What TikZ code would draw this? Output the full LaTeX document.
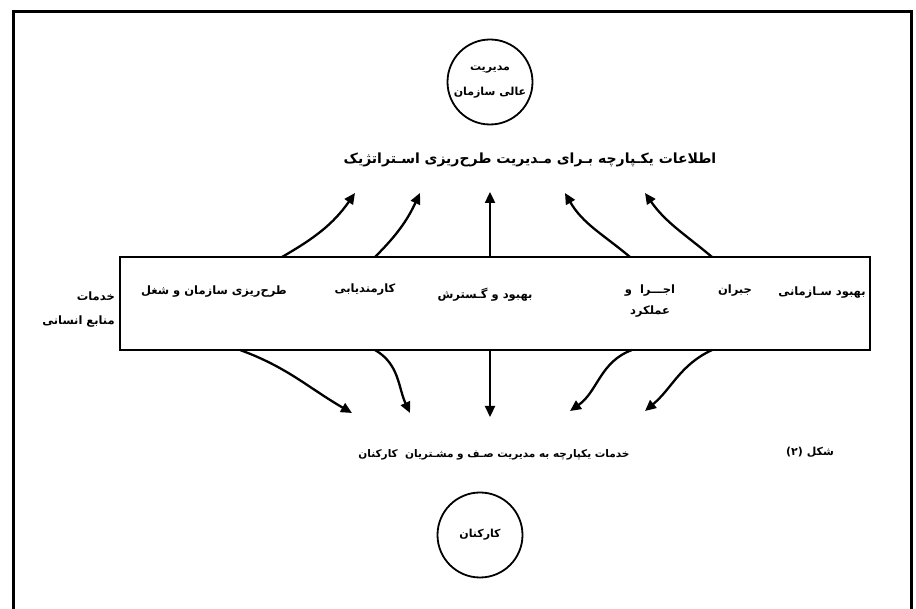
\documentclass[tikz,border=0pt]{standalone}
\usepackage{fontspec}
\TeXXeTstate=1
\newfontfamily\fa[Script=Arabic]{DejaVu Sans}
\usetikzlibrary{arrows.meta}
\begin{document}
\begin{tikzpicture}[x=1pt,y=1pt,
  lbl/.style={font=\fa\bfseries\fontsize{11.5}{14}\selectfont, inner sep=1pt},
  ttl/.style={font=\fa\bfseries\fontsize{10.5}{14}\selectfont, inner sep=1pt},
  arr/.style={-{Triangle[length=11pt,width=10pt]}, line width=2.3pt},
  circ/.style={circle, draw, line width=1.8pt, minimum size=85pt, inner sep=0pt, align=center,
    font=\fa\bfseries\fontsize{11}{25}\selectfont}]
\useasboundingbox (0,0) rectangle (916,609);
\draw[line width=3pt] (13,0) -- (13,597) -- (911,597) -- (911,0);
% circles
\node[circ] (topc) at (490,527) {\beginR مدیریت\endR\\\beginR عالی سازمان\endR};
\node[circ] (botc) at (480,74) {\beginR کارکنان\endR};
% titles
\node[ttl, font=\fa\bfseries\fontsize{14}{16}\selectfont] (title) at (530,449) {\beginR اطلاعات یکـپارچه بـرای مـدیریت طرح‌ریزی اسـتراتژیک\endR};
\node[ttl] (bottxt) at (494,154) {\beginR خدمات یکپارچه به مدیریت صـف و مشـتریان\ \ کارکنان\endR};
\node[ttl, font=\fa\bfseries\fontsize{11}{14}\selectfont] (fig) at (810,157) {\hbox{(۲)}\ \hbox{شکل}};
% box
\node[draw, line width=1.5pt, minimum width=750pt, minimum height=93pt, inner sep=0pt] (box) at (495,305.5) {};
% left label
\node[lbl, anchor=east] (l1) at (116,313) {\beginR خدمات\endR};
\node[lbl, anchor=east] (l2) at (116,287) {\beginR منابع انسانی\endR};
% box labels
\node[lbl] (b1) at (214,317) {\beginR طرح‌ریزی سازمان و شغل\endR};
\node[lbl] (b2) at (365,319) {\beginR کارمندیابی\endR};
\node[lbl] (b3) at (485,314) {\beginR بهبود و گـسترش\endR};
\node[lbl] (b4) at (650,318) {\beginR اجـــرا\ \ و\endR};
\node[lbl] (b4b) at (650,297) {\beginR عملکرد\endR};
\node[lbl] (b5) at (735,318) {\beginR جبران\endR};
\node[lbl] (b6) at (822,316) {\beginR بهبود سـازمانی\endR};
% arrow coordinates
\coordinate (s1) at (282,352); \coordinate (e1) at (355,416);
\coordinate (s2) at (375,352); \coordinate (e2) at (420,416);
\coordinate (s3) at (490,352); \coordinate (e3) at (490,417);
\coordinate (s4) at (630,352); \coordinate (e4) at (565,416);
\coordinate (s5) at (712,352); \coordinate (e5) at (645,416);
\coordinate (u1) at (240,259); \coordinate (f1) at (352,196);
\coordinate (u2) at (375,259); \coordinate (f2) at (410,196);
\coordinate (u3) at (490,259); \coordinate (f3) at (490,192);
\coordinate (u4) at (632,259); \coordinate (f4) at (570,198);
\coordinate (u5) at (712,259); \coordinate (f5) at (645,198);
% top arrows
\draw[arr] (s1) to[out=30,in=235] (e1);
\draw[arr] (s2) to[out=45,in=245] (e2);
\draw[arr] (s3) -- (e3);
\draw[arr] (s4) to[out=140,in=-60] (e4);
\draw[arr] (s5) to[out=140,in=-55] (e5);
% bottom arrows
\draw[arr] (u1) to[out=-20,in=150] (f1);
\draw[arr] (u2) to[out=-30,in=115] (f2);
\draw[arr] (u3) -- (f3);
\draw[arr] (u4) to[out=200,in=35] (f4);
\draw[arr] (u5) to[out=205,in=40] (f5);
\end{tikzpicture}
\end{document}
